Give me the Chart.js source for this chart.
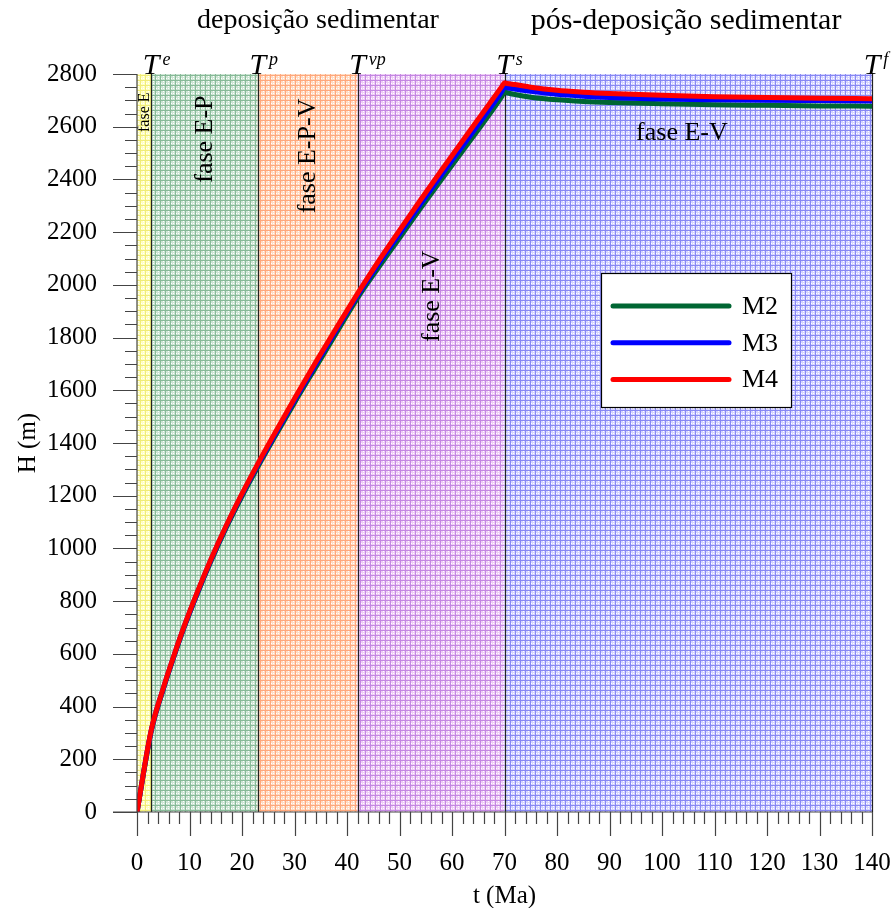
<!DOCTYPE html>
<html>
<head>
<meta charset="utf-8">
<script src="https://cdn.jsdelivr.net/npm/chart.js@4/dist/chart.umd.min.js"></script>
<style>
  html, body { margin: 0; padding: 0; background: #fff; }
  #wrap { width: 893px; height: 908px; }
</style>
</head>
<body>
<div id="wrap"><canvas id="c" width="893" height="908"></canvas></div>
<script>
// Time (Ma) and basin thickness H (m) for each model
const tMa = [0, 2.7, 5, 7, 9, 11.5, 14, 17, 20, 23, 26, 30, 34, 38, 42, 46, 50, 54, 58, 62, 66, 69.5, 70, 70.5,
             72, 75, 80, 85, 90, 100, 110, 120, 130, 140];
const hM2 = [0, 305, 465, 587, 701, 829, 948, 1079, 1198, 1309, 1415, 1553, 1686, 1818, 1950, 2066, 2178, 2290, 2400, 2508, 2616, 2715, 2732, 2729,
             2722, 2712, 2702, 2696, 2692, 2687, 2683, 2681, 2679, 2678];
const hM3 = [0, 308, 468, 590, 704, 832, 952, 1084, 1204, 1316, 1423, 1562, 1697, 1830, 1960, 2080, 2194, 2307, 2418, 2527, 2636, 2734, 2750, 2748,
             2743, 2734, 2723, 2716, 2711, 2705, 2702, 2700, 2699, 2698];
const hM4 = [0, 310, 470, 592, 706, 835, 955, 1087, 1208, 1321, 1429, 1569, 1705, 1837, 1967, 2090, 2207, 2322, 2435, 2546, 2656, 2753, 2767, 2764,
             2760, 2750, 2738, 2731, 2726, 2719, 2714, 2711, 2708, 2706];

const seriesNames = ['M2', 'M3', 'M4'];
const seriesValues = [hM2, hM3, hM4];

// Phase boundaries (Ma) and their names
const phaseBounds = [0, 2.7, 23, 42, 70, 140];
const phaseNames = ['fase E', 'fase E-P', 'fase E-P-V', 'fase E-V', 'fase E-V'];
const boundaryMarks = ['e', 'p', 'vp', 's', 'f'];
const periodNames = ['deposição sedimentar', 'pós-deposição sedimentar'];

const SERIF = '"Liberation Serif", "Times New Roman", Times, serif';
const lineColors = ['#006633', '#0000ff', '#ff0000'];
const bandColors = [
  ['#ffffc0', '#f0ec78'],
  ['#cde5d4', '#88ba98'],
  ['#ffdcc4', '#ffa87c'],
  ['#eecdf6', '#c488e2'],
  ['#d4d4ff', '#8888f4']
];

function makePattern(ctx, base, dark) {
  const c = document.createElement('canvas');
  c.width = 5; c.height = 5;
  const g = c.getContext('2d');
  g.fillStyle = base; g.fillRect(0, 0, 5, 5);
  g.fillStyle = dark; g.fillRect(0, 0, 1, 5); g.fillRect(0, 0, 5, 1);
  g.fillStyle = '#ffffff';
  g.fillRect(3, 1, 1, 1); g.fillRect(3, 3, 1, 1); g.fillRect(1, 3, 1, 1);
  return ctx.createPattern(c, 'repeat');
}

const phasePlugin = {
  id: 'phases',
  beforeDatasetsDraw(chart) {
    const { ctx, chartArea: a, scales: { x, y } } = chart;
    ctx.save();
    for (let i = 0; i < phaseBounds.length - 1; i++) {
      const x0 = x.getPixelForValue(phaseBounds[i]);
      const x1 = x.getPixelForValue(phaseBounds[i + 1]);
      ctx.fillStyle = makePattern(ctx, bandColors[i][0], bandColors[i][1]);
      ctx.fillRect(x0, a.top, x1 - x0, a.bottom - a.top);
    }
    // boundary lines
    ctx.strokeStyle = '#222';
    ctx.lineWidth = 1.2;
    for (let i = 1; i < phaseBounds.length; i++) {
      const px = Math.round(x.getPixelForValue(phaseBounds[i])) + 0.5;
      ctx.beginPath(); ctx.moveTo(px, a.top); ctx.lineTo(px, a.bottom); ctx.stroke();
    }
    // phase names
    ctx.fillStyle = '#000';
    ctx.textAlign = 'center';
    ctx.textBaseline = 'middle';
    const rotated = [
      { i: 0, h: 2655, size: 16 },
      { i: 1, h: 2553, size: 26 },
      { i: 2, h: 2489, size: 26 },
      { i: 3, h: 1957, size: 26 }
    ];
    rotated.forEach(r => {
      const cx = (x.getPixelForValue(phaseBounds[r.i]) + x.getPixelForValue(phaseBounds[r.i + 1])) / 2 + 1;
      const cy = y.getPixelForValue(r.h);
      ctx.save();
      ctx.translate(cx, cy);
      ctx.rotate(-Math.PI / 2);
      ctx.font = r.size + 'px ' + SERIF;
      ctx.fillText(phaseNames[r.i], 0, 0);
      ctx.restore();
    });
    ctx.font = '26px ' + SERIF;
    ctx.fillText(phaseNames[4], x.getPixelForValue(103.8), y.getPixelForValue(2576));
    ctx.restore();
  },
  afterDatasetsDraw(chart) {
    const { ctx, chartArea: a, scales: { x, y } } = chart;
    ctx.save();
    // axis lines and tick marks
    ctx.strokeStyle = '#444';
    ctx.lineWidth = 1.2;
    ctx.beginPath();
    ctx.moveTo(a.left, a.top); ctx.lineTo(a.left, a.bottom + 0.5);
    ctx.moveTo(a.left - 24, a.bottom); ctx.lineTo(a.right, a.bottom);
    for (let v = 0; v <= 2800; v += 50) {
      const py = Math.round(y.getPixelForValue(v)) + 0.5;
      const len = v % 200 === 0 ? 24 : 12;
      ctx.moveTo(a.left - len, py); ctx.lineTo(a.left, py);
    }
    for (let v = 0; v <= 140; v += 2) {
      const px = Math.round(x.getPixelForValue(v)) + 0.5;
      const len = v % 10 === 0 ? 24 : 12;
      ctx.moveTo(px, a.bottom); ctx.lineTo(px, a.bottom + len);
    }
    ctx.stroke();

    // boundary symbols T^e ... T^f
    ctx.fillStyle = '#000';
    ctx.textBaseline = 'alphabetic';
    for (let i = 1; i < phaseBounds.length; i++) {
      const px = x.getPixelForValue(phaseBounds[i]);
      ctx.font = 'italic 30px ' + SERIF;
      const w = ctx.measureText('T').width;
      ctx.textAlign = 'center';
      ctx.fillText('T', px, a.top);
      ctx.font = 'italic 18px ' + SERIF;
      ctx.textAlign = 'left';
      ctx.fillText(boundaryMarks[i - 1], px + w / 2 + 3, a.top - 9);
    }

    // period titles
    ctx.textAlign = 'center';
    ctx.textBaseline = 'middle';
    ctx.font = '28px ' + SERIF;
    ctx.fillText(periodNames[0], 318, 21);
    ctx.font = '30px ' + SERIF;
    ctx.fillText(periodNames[1], 686, 21);

    // legend box
    const bx = 601, by = 273, bw = 190, bh = 134;
    ctx.fillStyle = '#fff';
    ctx.fillRect(bx, by, bw, bh);
    ctx.strokeStyle = '#000';
    ctx.lineWidth = 1.2;
    ctx.strokeRect(bx + 0.5, by + 0.5, bw, bh);
    const sets = chart.data.datasets;
    sets.forEach((ds, k) => {
      const ly = 306 + k * 36.7;
      ctx.strokeStyle = ds.borderColor;
      ctx.lineWidth = 5;
      ctx.lineCap = 'round';
      ctx.beginPath(); ctx.moveTo(613, ly); ctx.lineTo(729, ly); ctx.stroke();
      ctx.fillStyle = '#000';
      ctx.font = '26px ' + SERIF;
      ctx.textAlign = 'left';
      ctx.fillText(ds.label, 742, ly + 1);
    });
    ctx.restore();
  }
};

const datasets = seriesNames.map((name, k) => ({
  label: name,
  data: tMa.map((t, i) => ({ x: t, y: seriesValues[k][i] })),
  borderColor: lineColors[k],
  backgroundColor: lineColors[k],
  borderWidth: 5,
  pointRadius: 0,
  cubicInterpolationMode: 'monotone',
  borderCapStyle: 'round',
  borderJoinStyle: 'round',
  fill: false,
  order: 2 - k
}));

const tickFont = { family: SERIF, size: 25 };

new Chart(document.getElementById('c').getContext('2d'), {
  type: 'line',
  data: { datasets },
  options: {
    responsive: false,
    animation: false,
    devicePixelRatio: 1,
    layout: { padding: { top: 74, right: 21, left: 0, bottom: 0 } },
    plugins: { legend: { display: false }, tooltip: { enabled: false } },
    scales: {
      x: {
        type: 'linear', min: 0, max: 140,
        ticks: { stepSize: 10, padding: 0, font: tickFont, color: '#000', maxRotation: 0, autoSkip: false,
                 callback: v => String(v) },
        grid: { display: false, drawTicks: true, tickLength: 36 },
        border: { display: false },
        title: { display: true, text: 't (Ma)', font: tickFont, color: '#000', padding: { top: 0, bottom: -3 } },
        afterFit(s) { s.height = 96; }
      },
      y: {
        type: 'linear', min: 0, max: 2800,
        ticks: { stepSize: 200, padding: 0, font: tickFont, color: '#000', autoSkip: false,
                 callback: v => String(v) },
        grid: { display: false, drawTicks: true, tickLength: 40 },
        border: { display: false },
        title: { display: true, text: 'H (m)', font: tickFont, color: '#000', padding: { top: 13, bottom: 0 } },
        afterFit(s) { s.width = 137; }
      }
    }
  },
  plugins: [phasePlugin]
});
</script>
</body>
</html>
